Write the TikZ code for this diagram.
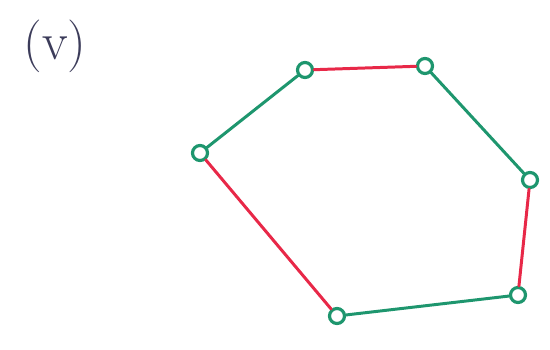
\documentclass[tikz,border=0pt]{standalone}
\usepackage{tikz}

\tikzset{
  vtx/.style={circle, draw=gcol, line width=1.8pt, minimum size=0.3cm, inner sep=0},
  gedge/.style={gcol, line width=1.7pt, line cap=round},
  redge/.style={rcol, line width=1.7pt, line cap=round},
}
\definecolor{gcol}{RGB}{30,150,110}
\definecolor{rcol}{RGB}{232,40,72}
\definecolor{lcol}{RGB}{60,60,90}

\begin{document}
\begin{tikzpicture}
    % frame: 550 x 349 px, 1px = 0.02cm
    \useasboundingbox (0,0) rectangle (11,6.98);

    % --- label ---
    \node[font=\fontsize{30}{30}\selectfont, text=lcol] (lbl) at (1.1, 6.05) {(v)};

    % --- vertices ---
    \node[vtx] (a) at (6.10, 5.58) {};
    \node[vtx] (b) at (8.50, 5.66) {};
    \node[vtx] (c) at (10.60, 3.38) {};
    \node[vtx] (d) at (10.36, 1.08) {};
    \node[vtx] (e) at (6.74, 0.66) {};
    \node[vtx] (f) at (4.00, 3.92) {};

    % --- edges: red / green alternating ---
    \draw[redge] (a) -- (b);
    \draw[gedge] (b) -- (c);
    \draw[redge] (c) -- (d);
    \draw[gedge] (d) -- (e);
    \draw[redge] (e) -- (f);
    \draw[gedge] (f) -- (a);
\end{tikzpicture}
\end{document}
